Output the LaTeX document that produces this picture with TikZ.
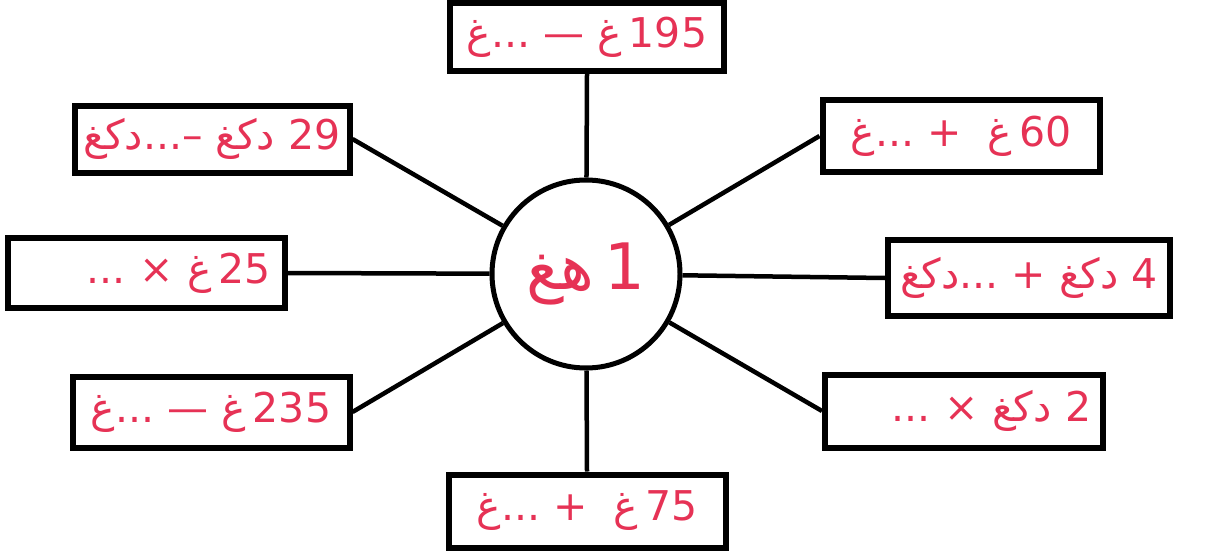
\documentclass[tikz,border=0pt]{standalone}
\usepackage{fontspec}
\newfontfamily\arabicfont[Script=Arabic]{DejaVu Sans}
\TeXXeTstate=1
\definecolor{ink}{RGB}{230,50,85}
\begin{document}
\begin{tikzpicture}[x=1pt,y=-1pt,
  box/.style={draw=black, line width=6pt, fill=white, minimum width=#1,
    minimum height=70pt, inner sep=0pt, text=ink,
    font=\arabicfont\fontsize{41}{46}\selectfont},
  hub/.style={draw=black, line width=5pt, fill=white, circle, minimum size=188pt,
    inner sep=0pt, text=ink, font=\arabicfont\fontsize{64}{70}\selectfont},
  link/.style={line width=4.5pt}]
\useasboundingbox (0,0) rectangle (1212,551);
\node[hub] (c) at (586,274) {\beginR\beginL1\endL\,هغ\endR};
\node[box=274, minimum height=68pt] (b1) at (587,37) {\beginR\beginL195\endL\,غ — ...غ\endR};
\node[box=275, minimum height=67pt] (b2) at (212,139) {\beginR\beginL29\endL{} دكغ –...دكغ\endR};
\node[box=277, minimum height=72pt] (b3) at (961,136) {\beginR\beginL60\endL\,غ \ + ...غ\endR};
\node[box=277, minimum height=70pt, text width=250pt, align=right] (b4) at (146,273) {\beginR\beginL25\endL\,غ × ...\endR};
\node[box=282, minimum height=76pt] (b5) at (1029,278) {\beginR\beginL4\endL{} دكغ + ...دكغ\endR};
\node[box=277, minimum height=71pt] (b6) at (211,412) {\beginR\beginL235\endL\,غ — ...غ\endR};
\node[box=278, minimum height=73pt, text width=255pt, align=right] (b7) at (964,411) {\beginR\beginL2\endL{} دكغ × ...\endR};
\node[box=277, minimum height=73pt] (b8) at (587,511) {\beginR\beginL75\endL\,غ \ + ...غ\endR};
\draw[link] (b1.south) -- (c);
\draw[link] (b2.east) -- (c);
\draw[link] (b3.west) -- (c);
\draw[link] (b4.east) -- (c);
\draw[link] (b5.west) -- (c);
\draw[link] (b6.east) -- (c);
\draw[link] (b7.west) -- (c);
\draw[link] (b8.north) -- (c);
\end{tikzpicture}
\end{document}
